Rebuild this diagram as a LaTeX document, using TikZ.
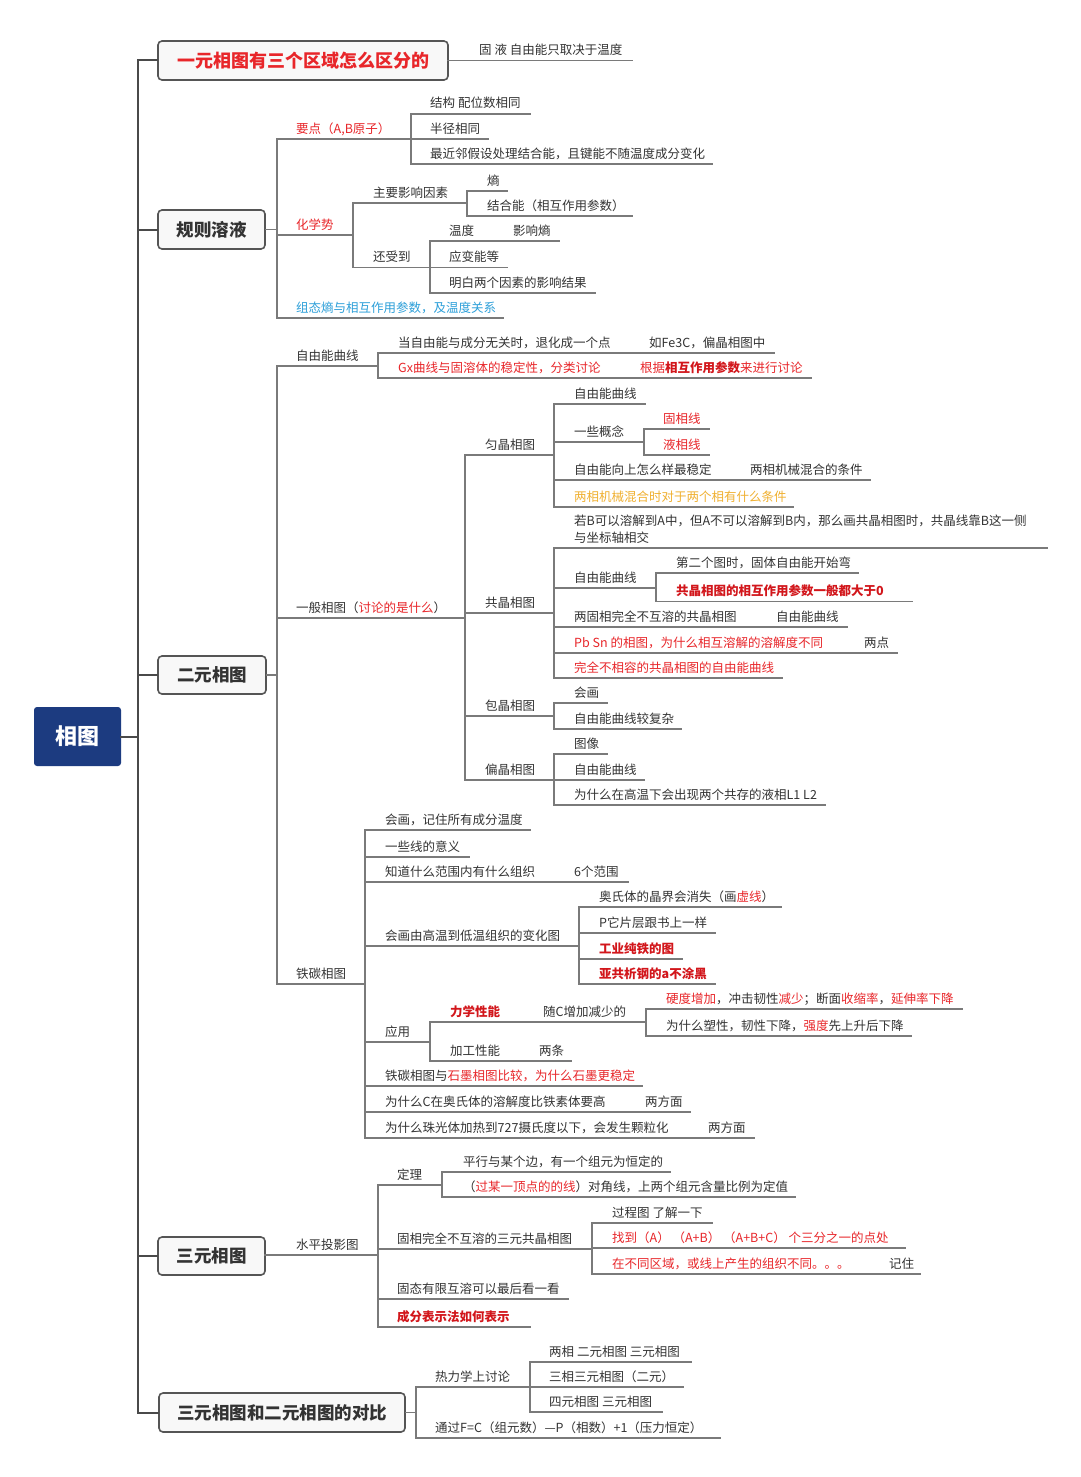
\documentclass[tikz,border=0pt]{standalone}
\usepackage{fontspec}
\setmainfont{Noto Sans CJK SC}
\definecolor{tx}{HTML}{333333}
\definecolor{redA}{HTML}{E8262A}
\definecolor{redB}{HTML}{D2161B}
\definecolor{bluA}{HTML}{2C9FD9}
\definecolor{oraA}{HTML}{F0B030}
\definecolor{lnc}{HTML}{7A7A7A}
\definecolor{spc}{HTML}{4A4A4A}
\definecolor{boxc}{HTML}{555555}
\definecolor{boxfill}{HTML}{F8F8F8}
\definecolor{rootc}{HTML}{1C3B80}
\newcommand\cRed[1]{\textcolor{redA}{#1}}
\newcommand\cBRed[1]{\textcolor{redB}{\bfseries #1}}
\newcommand\cBlue[1]{\textcolor{bluA}{#1}}
\newcommand\cOra[1]{\textcolor{oraA}{#1}}
\newcommand\mmit[6]{%
  \coordinate (#1-l) at (#2,#3);
  \coordinate (#1-r) at (#4,#3);
  \draw[br] (#1-l) -- (#1-r);
  \node[txt] (#1) at (#5,#3-6) {#6};
}
\newcommand\mmbr[2]{\draw[br] (#1-l) -- (#2-l);}
\begin{document}
\begin{tikzpicture}[x=1pt,y=-1pt,
  txt/.style={anchor=base west, inner sep=0pt, font=\fontsize{12.5}{17}\selectfont, text=tx},
  br/.style={draw=lnc, line width=1.1pt, line cap=rect},
  spine/.style={draw=spc, line width=2pt, line cap=rect},
  box/.style={draw=boxc, line width=1.6pt, fill=boxfill, rounded corners=4pt, inner sep=0pt,
    font=\fontsize{17.5}{20}\selectfont\bfseries, text=tx}]
\fill[white] (0,0) rectangle (1080,1477);
\useasboundingbox (0,0) rectangle (1080,1477);

% root and level-1 boxes
\node[fill=rootc, rounded corners=3pt, minimum width=87pt, minimum height=59pt, inner sep=0pt,
  text=white, font=\fontsize{22}{24}\selectfont\bfseries] (root) at (77.5,736.5) {相图};
\node[box, minimum width=290pt, minimum height=39pt, text=redA, font=\fontsize{18}{21}\selectfont\bfseries] (b1) at (303,60.5) {一元相图有三个区域怎么区分的};
\node[box, minimum width=107pt, minimum height=39pt] (b2) at (211.5,229.5) {规则溶液};
\node[box, minimum width=108pt, minimum height=38pt] (b3) at (212,675) {二元相图};
\node[box, minimum width=107pt, minimum height=38pt] (b4) at (211.5,1256) {三元相图};
\node[box, minimum width=246pt, minimum height=39pt] (b5) at (282,1412.5) {三元相图和二元相图的对比};

\coordinate (sp1) at (138,60.5);
\coordinate (sp5) at (138,1412.5);
\draw[spine] (b1.west) -- (sp1) -- (sp5) -- (b5.west);
\draw[spine] (b2.west) -- (b2.west -| sp1);
\draw[spine] (b3.west) -- (b3.west -| sp1);
\draw[spine] (b4.west) -- (b4.west -| sp1);
\draw[spine] (root.east) -- (root.east -| sp1);

% box 1
\mmit{a1}{448}{60.5}{632}{479}{固 液 自由能只取决于温度}

% 规则溶液
\mmit{r1}{277}{139}{411}{296}{\cRed{要点（A,B原子）}}
\mmit{r11}{411}{114}{530}{430}{结构 配位数相同}
\mmit{r12}{411}{139}{488}{430}{半径相同}
\mmit{r13}{411}{164}{712}{430}{最近邻假设处理结合能，且键能不随温度成分变化}
\mmbr{r11}{r13}
\mmit{r2}{277}{235}{353}{296}{\cRed{化学势}}
\mmit{r21}{353}{203}{467}{373}{主要影响因素}
\mmit{r211}{467}{191}{507}{487}{熵}
\mmit{r212}{467}{216}{632}{487}{结合能（相互作用参数）}
\mmbr{r211}{r212}
\mmit{r22}{353}{267.5}{430}{373}{还受到}
\mmit{r221}{430}{241}{493}{449}{温度}
\mmit{r2211}{493}{241}{559}{513}{影响熵}
\mmit{r222}{430}{267.5}{507}{449}{应变能等}
\mmit{r223}{430}{293}{595}{449}{明白两个因素的影响结果}
\mmbr{r221}{r223}
\mmbr{r21}{r22}
\mmit{r3}{277}{318}{503}{296}{\cBlue{组态熵与相互作用参数，及温度关系}}
\mmbr{r1}{r3}
\draw[br] (b2.east) -- (b2.east -| r1-l);

% 二元相图
\mmit{e1}{277}{366}{378}{296}{自由能曲线}
\mmit{e11}{378}{353}{628}{398}{当自由能与成分无关时，退化成一个点}
\mmit{e111}{628}{353}{774}{649}{如Fe3C，偏晶相图中}
\mmit{e12}{378}{378}{620}{398}{\cRed{Gx曲线与固溶体的稳定性，分类讨论}}
\mmit{e121}{620}{378}{811}{640}{\cRed{根据}\cBRed{相互作用参数}\cRed{来进行讨论}}
\mmbr{e11}{e12}
\mmit{e2}{277}{618}{465}{296}{一般相图（\cRed{讨论的是什么}）}
\mmit{e21}{465}{455}{554}{485}{匀晶相图}
\mmit{e211}{554}{404}{645}{574}{自由能曲线}
\mmit{e212}{554}{442}{644}{574}{一些概念}
\mmit{e2121}{644}{429}{709}{663}{\cRed{固相线}}
\mmit{e2122}{644}{455}{709}{663}{\cRed{液相线}}
\mmbr{e2121}{e2122}
\mmit{e213}{554}{480}{730}{574}{自由能向上怎么样最稳定}
\mmit{e2131}{730}{480}{870}{750}{两相机械混合的条件}
\mmit{e214}{554}{507}{793}{574}{\cOra{两相机械混合时对于两个相有什么条件}}
\mmbr{e211}{e214}
\mmit{e22}{465}{613}{554}{485}{共晶相图}
\coordinate (e221-l) at (554,548);
\coordinate (e221-r) at (1047,548);
\draw[br] (e221-l) -- (e221-r);
\node[txt] (e221) at (574,525) {\begin{tabular}[t]{@{}l@{}}若B可以溶解到A中，但A不可以溶解到B内，那么画共晶相图时，共晶线靠B这一侧\\与坐标轴相交\end{tabular}};
\mmit{e222}{554}{588}{656}{574}{自由能曲线}
\mmit{e2221}{656}{573}{858}{676}{第二个图时，固体自由能开始弯}
\mmit{e2222}{656}{601.5}{912}{676}{\cBRed{共晶相图的相互作用参数一般都大于0}}
\mmbr{e2221}{e2222}
\mmit{e223}{554}{627}{760}{574}{两固相完全不互溶的共晶相图}
\mmit{e2231}{760}{627}{847}{776}{自由能曲线}
\mmit{e224}{554}{653}{845}{574}{\cRed{Pb Sn 的相图，为什么相互溶解的溶解度不同}}
\mmit{e2241}{845}{653}{897}{864}{两点}
\mmit{e225}{554}{678}{782}{574}{\cRed{完全不相容的共晶相图的自由能曲线}}
\mmbr{e221}{e225}
\mmit{e23}{465}{716}{554}{485}{包晶相图}
\mmit{e231}{554}{703}{607}{574}{会画}
\mmit{e232}{554}{729}{681}{574}{自由能曲线较复杂}
\mmbr{e231}{e232}
\mmit{e24}{465}{780}{554}{485}{偏晶相图}
\mmit{e241}{554}{754}{607}{574}{图像}
\mmit{e242}{554}{780}{644}{574}{自由能曲线}
\mmit{e243}{554}{805}{825}{574}{为什么在高温下会出现两个共存的液相L1 L2}
\mmbr{e241}{e243}
\mmbr{e21}{e24}
\mmit{e3}{277}{984}{365}{296}{铁碳相图}
\mmit{e31}{365}{830}{530}{385}{会画，记住所有成分温度}
\mmit{e32}{365}{857}{469}{385}{一些线的意义}
\mmit{e33}{365}{882}{555}{385}{知道什么范围内有什么组织}
\mmit{e331}{555}{882}{628}{574}{6个范围}
\mmit{e34}{365}{946}{579}{385}{会画由高温到低温组织的变化图}
\mmit{e341}{579}{907}{781}{599}{奥氏体的晶界会消失（画\cRed{虚线}）}
\mmit{e342}{579}{933}{715}{599}{P它片层跟书上一样}
\mmit{e343}{579}{959}{682}{599}{\cBRed{工业纯铁的图}}
\mmit{e344}{579}{984}{715}{599}{\cBRed{亚共析钢的a不涂黑}}
\mmbr{e341}{e344}
\mmit{e35}{365}{1042}{430}{385}{应用}
\mmit{e351}{430}{1022}{528}{450}{\cBRed{力学性能}}
\mmit{e3511}{528}{1022}{646}{543}{随C增加减少的}
\mmit{e35111}{646}{1009}{962}{666}{\cRed{硬度增加}，冲击韧性\cRed{减少}；断面\cRed{收缩率}，\cRed{延伸率下降}}
\mmit{e35112}{646}{1036}{911}{666}{为什么塑性，韧性下降，\cRed{强度}先上升后下降}
\mmbr{e35111}{e35112}
\mmit{e352}{430}{1061}{525}{450}{加工性能}
\mmit{e3521}{525}{1061}{571}{539}{两条}
\mmbr{e351}{e352}
\mmit{e36}{365}{1086}{642}{385}{铁碳相图与\cRed{石墨相图比较，为什么石墨更稳定}}
\mmit{e37}{365}{1112}{630}{385}{为什么C在奥氏体的溶解度比铁素体要高}
\mmit{e371}{630}{1112}{690}{645}{两方面}
\mmit{e38}{365}{1138}{690}{385}{为什么珠光体加热到727摄氏度以下，会发生颗粒化}
\mmit{e381}{690}{1138}{754}{708}{两方面}
\mmbr{e31}{e38}
\mmbr{e1}{e3}
\draw[br] (b3.east) -- (b3.east -| e1-l);

% 三元相图
\mmit{t1}{265}{1255}{378}{296}{水平投影图}
\mmit{t11}{378}{1185}{442}{397}{定理}
\mmit{t111}{442}{1172}{670}{463}{平行与某个边，有一个组元为恒定的}
\mmit{t112}{442}{1197}{795}{463}{（\cRed{过某一顶点的的线}）对角线，上两个组元含量比例为定值}
\mmbr{t111}{t112}
\mmit{t12}{378}{1249}{592}{397}{固相完全不互溶的三元共晶相图}
\mmit{t121}{592}{1223}{712}{612}{过程图 了解一下}
\mmit{t122}{592}{1248}{905}{612}{\cRed{找到（A）\ （A+B）\ （A+B+C）\ 个三分之一的点处}}
\mmit{t123}{592}{1274}{870}{612}{\cRed{在不同区域，或线上产生的组织不同。。。}}
\mmit{t1231}{870}{1274}{920}{889}{记住}
\mmbr{t121}{t123}
\mmit{t13}{378}{1299}{568}{397}{固态有限互溶可以最后看一看}
\mmit{t14}{378}{1327}{530}{397}{\cBRed{成分表示法如何表示}}
\mmbr{t11}{t14}

% 对比
\mmit{c1}{416}{1387}{530}{435}{热力学上讨论}
\mmit{c11}{530}{1362}{691}{549}{两相 二元相图 三元相图}
\mmit{c12}{530}{1387}{683}{549}{三相三元相图（二元）}
\mmit{c13}{530}{1412}{662}{549}{四元相图 三元相图}
\mmbr{c11}{c13}
\mmit{c2}{416}{1438}{720}{435}{通过F=C（组元数）—P（相数）+1（压力恒定）}
\mmbr{c1}{c2}
\draw[br] (b5.east) -- (b5.east -| c1-l);
\end{tikzpicture}
\end{document}
